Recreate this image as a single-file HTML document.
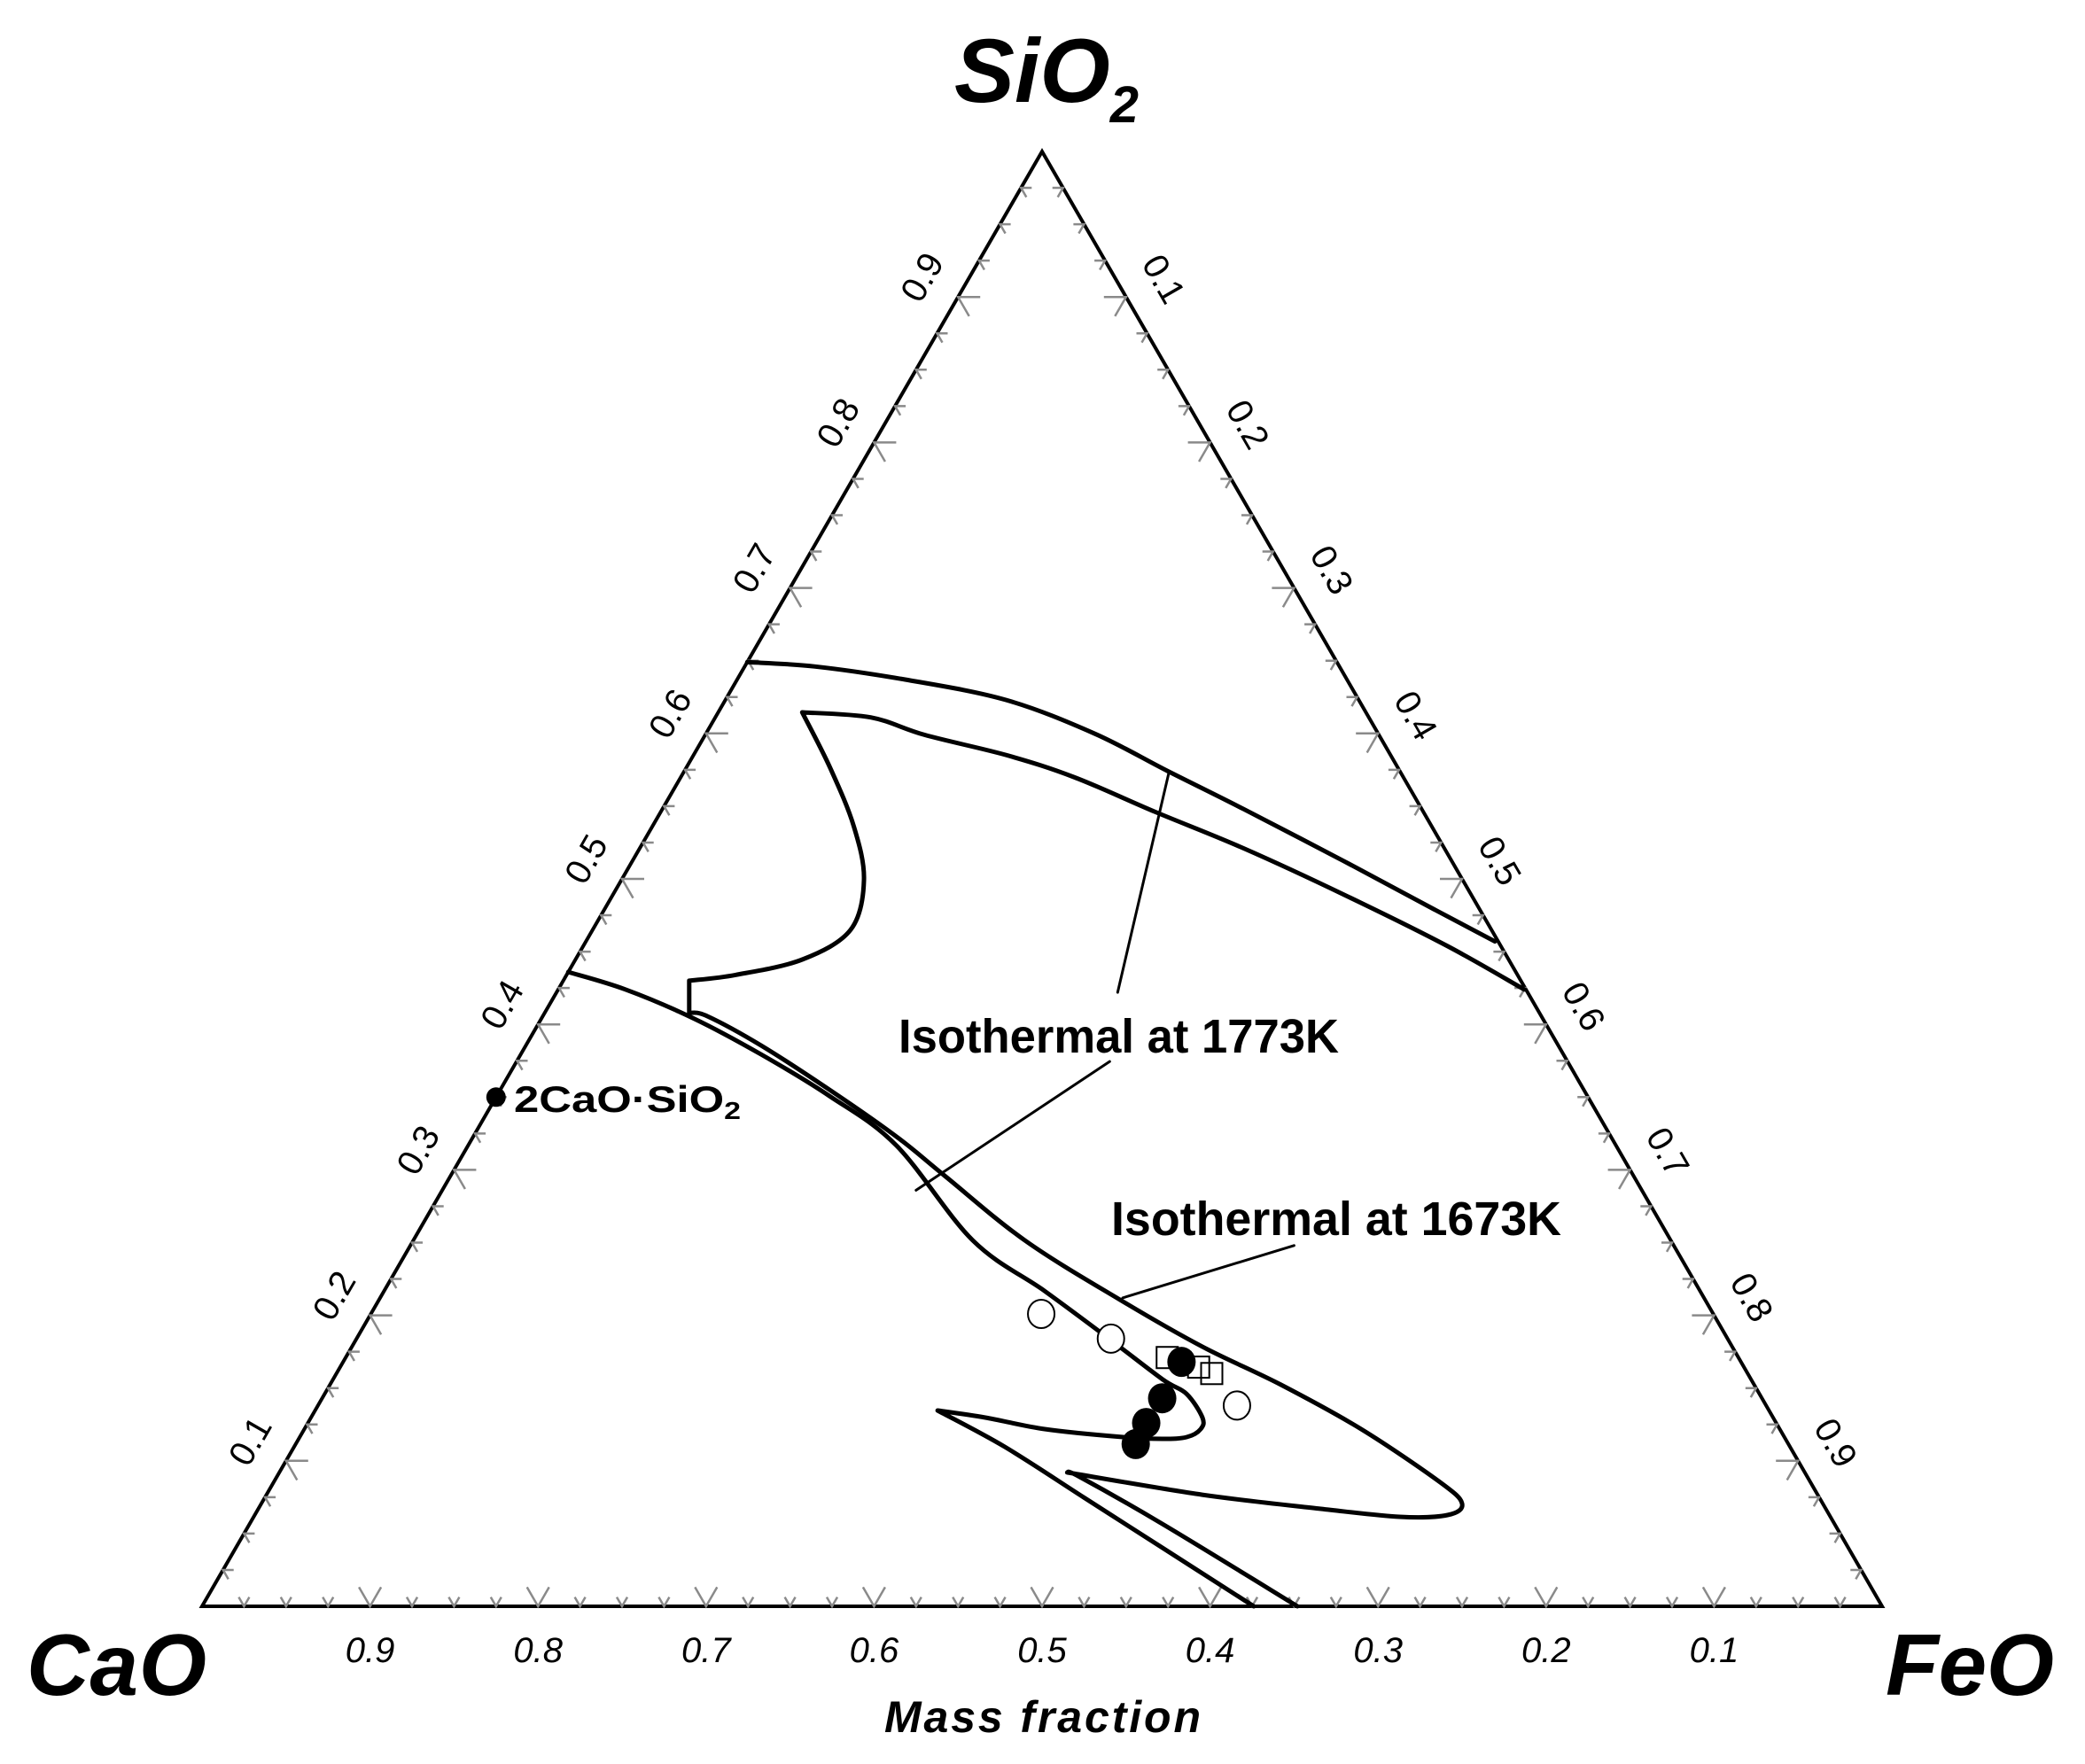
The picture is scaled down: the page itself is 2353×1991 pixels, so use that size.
<!DOCTYPE html>
<html><head><meta charset="utf-8"><style>
html,body{margin:0;padding:0;background:#fff;}
svg{display:block;}
</style></head><body>
<svg id="chart" width="2353" height="1991" viewBox="0 0 2353 1991" xmlns="http://www.w3.org/2000/svg" font-family="'Liberation Sans', sans-serif">
<rect width="2353" height="1991" fill="#fff"/>
<g id="ticks"></g>
<g id="curves"></g>
<g id="marks"></g>
<g id="labels"></g>
<text x="1077" y="115" font-size="102" font-weight="bold" font-style="italic">SiO<tspan font-size="58" dy="23">2</tspan></text>
<text x="30" y="1913" font-size="98" font-weight="bold" font-style="italic" textLength="203">CaO</text>
<text x="2128" y="1913" font-size="98" font-weight="bold" font-style="italic" textLength="190">FeO</text>
<text x="998" y="1955" font-size="50" font-weight="bold" font-style="italic" textLength="357">Mass fraction</text>
<text x="1014" y="1188" font-size="54" font-weight="bold" textLength="497" lengthAdjust="spacingAndGlyphs">Isothermal at 1773K</text>
<text x="1254" y="1394" font-size="54" font-weight="bold" textLength="508" lengthAdjust="spacingAndGlyphs">Isothermal at 1673K</text>
<text x="580" y="1255" font-size="42" font-weight="bold" textLength="256" lengthAdjust="spacingAndGlyphs">2CaO·SiO<tspan font-size="28" dy="8">2</tspan></text>
</svg>
<script>
// compositions as [SiO2, FeO] mass fractions
const upperBoundary1773 = [[0.649,0.000],[0.646,0.042],[0.637,0.100],[0.623,0.167],[0.600,0.231],[0.574,0.288],[0.548,0.346],[0.512,0.424],[0.479,0.494],[0.457,0.541]];
const innerBoundaryQ = [[0.424,0.575],[0.454,0.514],[0.489,0.4355],[0.521,0.3595],[0.546,0.2945],[0.570,0.234],[0.585,0.1865],[0.599,0.1305],[0.611,0.0925],[0.6145,0.050],[0.576,0.086],[0.536,0.120],[0.499,0.1445],[0.465,0.1535],[0.4446,0.135],[0.434,0.1005],[0.430,0.075],[0.408,0.086],[0.4056,0.098],[0.3855,0.140],[0.355,0.196],[0.3228,0.252],[0.296,0.294],[0.2515,0.364],[0.2107,0.441],[0.1784,0.5063],[0.1523,0.566],[0.1218,0.629],[0.0853,0.6942],[0.0706,0.7147],[0.0627,0.710],[0.0615,0.682],[0.067,0.6325],[0.0767,0.557],[0.092,0.469],[0.0889,0.478],[0.0566,0.5434],[0.0,0.652]];
const innerCorners = [9,16,17,34];
const boundaryP = [[0.436,0.0],[0.424,0.040],[0.404,0.0907],[0.3794,0.143],[0.3508,0.198],[0.3167,0.255],[0.2515,0.333],[0.2168,0.393],[0.1845,0.447],[0.156,0.4937],[0.146,0.513],[0.1297,0.5306],[0.1218,0.5335],[0.1163,0.528],[0.1151,0.514],[0.1163,0.490],[0.1218,0.4407],[0.1297,0.4014],[0.1346,0.3705],[0.1096,0.423],[0.0749,0.4873],[0.0402,0.5516],[0.0,0.626]];
const pCorners = [18];
const openCircles = [[0.201,0.399],[0.184,0.449],[0.138,0.547]];
const filledCircles = [[0.168,0.499],[0.143,0.500],[0.126,0.499],[0.1115,0.500]];
const squares = [[0.171,0.489],[0.1644,0.511],[0.160,0.521]];
const compound = [[0.350,0.0]];
const tickLabels = ["0.1","0.2","0.3","0.4","0.5","0.6","0.7","0.8","0.9"];
const leader1773a = [[0.573,0.289],[0.422,0.334]];
const leader1773b = [[0.3745,0.353],[0.286,0.282]];
const leader1673 = [[0.248,0.526],[0.212,0.442]];

const NS="http://www.w3.org/2000/svg";
const X0=228, Y0=1813, W=1896, H=1642;
function px(s,f){return [X0+W*(f+s/2), Y0-H*s];}
function mk(tag,attrs,parent){const e=document.createElementNS(NS,tag);for(const k in attrs)e.setAttribute(k,attrs[k]);parent.appendChild(e);return e;}
const ticksG=document.getElementById('ticks'), curvesG=document.getElementById('curves'), marksG=document.getElementById('marks'), labelsG=document.getElementById('labels');

const A=px(1,0),B=px(0,0),C=px(0,1);
const tri=mk('polygon',{points:[A,B,C].map(p=>p.join(',')).join(' '),fill:'none',stroke:'#000','stroke-width':4,'stroke-linejoin':'miter'},ticksG);



const c60=0.5, s60=0.866;
for(let i=1;i<40;i++){
  const v=i/40, major=(i%4===0), L=major?25:12;
  const st={stroke:'#8a8a8a','stroke-width':2.5,fill:'none'};
  let [x,y]=px(0,1-v);
  let t=mk('path',Object.assign({d:`M${x-L*c60},${y-L*s60}L${x},${y}L${x+L*c60},${y-L*s60}`},st),ticksG);
  
  
  [x,y]=px(v,0);
  t=mk('path',Object.assign({d:`M${x+L},${y}L${x},${y}L${x+L*c60},${y+L*s60}`},st),ticksG);
  
  
  [x,y]=px(1-v,v);
  t=mk('path',Object.assign({d:`M${x-L},${y}L${x},${y}L${x-L*c60},${y+L*s60}`},st),ticksG);
  
  
}
tickLabels.forEach((lab,i)=>{
  const v=parseFloat(lab);
  let [x,y]=px(0,1-v);
  let t=mk('text',{x:x,y:y+63,'font-size':40,'font-style':'italic','text-anchor':'middle'},labelsG);
  t.textContent=lab;
  
  
  [x,y]=px(v,0);
  let cx=x-40, cy=y-22;
  t=mk('text',{x:cx,y:cy,'font-size':40,'text-anchor':'middle','dominant-baseline':'central',transform:`rotate(-60 ${cx} ${cy})`},labelsG);
  t.textContent=lab;
  
  
  [x,y]=px(1-v,v);
  cx=x+42; cy=y-20;
  t=mk('text',{x:cx,y:cy,'font-size':40,'text-anchor':'middle','dominant-baseline':'central',transform:`rotate(60 ${cx} ${cy})`},labelsG);
  t.textContent=lab;
  
  
});

function smoothSeg(P){
  let d='';
  for(let i=0;i<P.length-1;i++){
    const p0=P[Math.max(0,i-1)],p1=P[i],p2=P[i+1],p3=P[Math.min(P.length-1,i+2)];
    const c1=[p1[0]+(p2[0]-p0[0])/6,p1[1]+(p2[1]-p0[1])/6];
    const c2=[p2[0]-(p3[0]-p1[0])/6,p2[1]-(p3[1]-p1[1])/6];
    d+=`C${c1[0].toFixed(1)},${c1[1].toFixed(1)} ${c2[0].toFixed(1)},${c2[1].toFixed(1)} ${p2[0].toFixed(1)},${p2[1].toFixed(1)}`;
  }
  return d;
}
function line(arr,name,w,corners,smooth){
  const P=arr.map(p=>px(p[0],p[1]));
  let d='M'+P[0][0].toFixed(1)+','+P[0][1].toFixed(1);
  if(!smooth){ for(let i=1;i<P.length;i++) d+='L'+P[i][0].toFixed(1)+','+P[i][1].toFixed(1); }
  else{
    const cuts=[0,...(corners||[]),P.length-1];
    for(let k=0;k<cuts.length-1;k++) d+=smoothSeg(P.slice(cuts[k],cuts[k+1]+1));
  }
  const e=mk('path',{d:d,fill:'none',stroke:'#000','stroke-width':w,'stroke-linejoin':'round','stroke-linecap':'round'},curvesG);
  
  
}
line(upperBoundary1773,'boundary-1773k-upper',5,[],true);
line(innerBoundaryQ,'boundary-1673k',5,innerCorners,true);
line(boundaryP,'boundary-1773k-lower',5,pCorners,true);
line(leader1773a,'leader-1773k-upper',3);
line(leader1773b,'leader-1773k-lower',3);
line(leader1673,'leader-1673k',3);

openCircles.forEach(p=>{const [x,y]=px(p[0],p[1]);
  const e=mk('ellipse',{cx:x,cy:y,rx:15,ry:16,fill:'#fff',stroke:'#000','stroke-width':2},marksG);
  
  });
squares.forEach(p=>{const [x,y]=px(p[0],p[1]);
  const e=mk('rect',{x:x-12,y:y-12,width:24,height:24,fill:'none',stroke:'#000','stroke-width':2},marksG);
  
  });
filledCircles.forEach(p=>{const [x,y]=px(p[0],p[1]);
  const e=mk('ellipse',{cx:x,cy:y,rx:16,ry:17,fill:'#000'},marksG);
  
  });
compound.forEach(p=>{const [x,y]=px(p[0],p[1]);
  const e=mk('circle',{cx:x,cy:y,r:11,fill:'#000'},marksG);
  
  });
</script>
</body></html>
